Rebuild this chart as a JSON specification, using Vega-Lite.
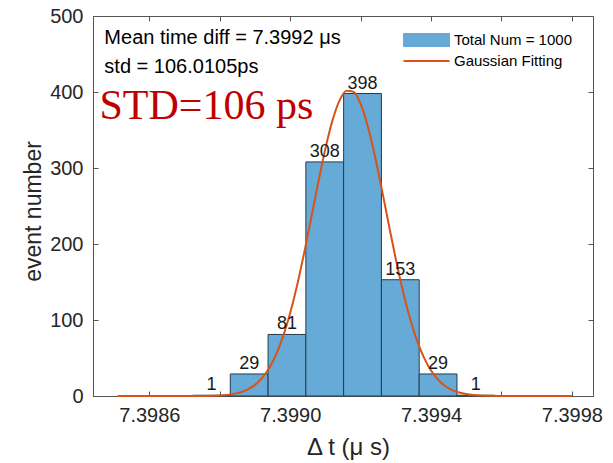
{
  "$schema": "https://vega.github.io/schema/vega-lite/v6.json",
  "autosize": {"type": "none"},
  "padding": {"left": 93, "top": 16, "right": 20, "bottom": 67},
  "width": 500,
  "height": 380,
  "background": "white",
  "config": {
    "font": "Liberation Sans",
    "view": {"stroke": "#555555", "strokeWidth": 1},
    "axis": {
      "grid": false,
      "domainColor": "#555555",
      "tickColor": "#555555",
      "labelColor": "#262626",
      "titleColor": "#262626",
      "labelFont": "Liberation Sans",
      "titleFont": "Liberation Sans",
      "labelFontSize": 20,
      "titleFontSize": 22,
      "titleFontWeight": "normal"
    },
    "legend": {
      "orient": "none",
      "legendX": 326,
      "legendY": 16.5,
      "title": null,
      "padding": 0,
      "symbolSize": 400,
      "rowPadding": 5,
      "labelOffset": 20,
      "labelFontSize": 15,
      "labelColor": "#000000",
      "labelFont": "Liberation Sans",
      "symbolOpacity": 1
    }
  },
  "datasets": {
    "bins": [
      {"start": 7.3987226, "end": 7.3988299, "count": 1},
      {"start": 7.3988299, "end": 7.3989372, "count": 29},
      {"start": 7.3989372, "end": 7.3990445, "count": 81},
      {"start": 7.3990445, "end": 7.3991518, "count": 308},
      {"start": 7.3991518, "end": 7.3992591, "count": 398},
      {"start": 7.3992591, "end": 7.3993664, "count": 153},
      {"start": 7.3993664, "end": 7.3994737, "count": 29},
      {"start": 7.3994737, "end": 7.399581, "count": 1}
    ],
    "fit": [
      {"t": 7.39851, "n": 0},
      {"t": 7.39870, "n": 0.02},
      {"t": 7.39875, "n": 0.13},
      {"t": 7.39880, "n": 0.77},
      {"t": 7.39884, "n": 2.8},
      {"t": 7.39886, "n": 5.0},
      {"t": 7.39888, "n": 8.7},
      {"t": 7.39890, "n": 14.6},
      {"t": 7.39892, "n": 23.5},
      {"t": 7.39894, "n": 36.4},
      {"t": 7.39896, "n": 54.5},
      {"t": 7.39898, "n": 78.7},
      {"t": 7.39900, "n": 109.3},
      {"t": 7.39902, "n": 146.4},
      {"t": 7.39904, "n": 189.0},
      {"t": 7.39906, "n": 235.0},
      {"t": 7.39908, "n": 281.7},
      {"t": 7.39910, "n": 325.5},
      {"t": 7.39912, "n": 362.3},
      {"t": 7.39914, "n": 388.7},
      {"t": 7.39916, "n": 401.8},
      {"t": 7.39918, "n": 400.3},
      {"t": 7.39920, "n": 384.4},
      {"t": 7.39922, "n": 355.6},
      {"t": 7.39924, "n": 317.2},
      {"t": 7.39926, "n": 272.5},
      {"t": 7.39928, "n": 225.6},
      {"t": 7.39930, "n": 180.1},
      {"t": 7.39932, "n": 138.5},
      {"t": 7.39934, "n": 102.6},
      {"t": 7.39936, "n": 73.3},
      {"t": 7.39938, "n": 50.5},
      {"t": 7.39940, "n": 33.5},
      {"t": 7.39942, "n": 21.4},
      {"t": 7.39944, "n": 13.2},
      {"t": 7.39946, "n": 7.8},
      {"t": 7.39948, "n": 4.5},
      {"t": 7.39950, "n": 2.5},
      {"t": 7.39952, "n": 1.3},
      {"t": 7.39956, "n": 0.33},
      {"t": 7.39962, "n": 0.03},
      {"t": 7.39980, "n": 0}
    ],
    "notes": [
      {"t": 7.3984723, "n": 463, "label": "Mean time diff = 7.3992 μs"},
      {"t": 7.3984723, "n": 425, "label": "std = 106.0105ps"}
    ],
    "big": [
      {"t": 7.3984585, "n": 364, "label": "STD=106 ps"}
    ]
  },
  "resolve": {"axis": {"x": "independent", "y": "independent"}},
  "layer": [
    {
      "data": {"name": "bins"},
      "mark": {"type": "bar", "stroke": "#2a3a4a", "strokeWidth": 1, "opacity": 1},
      "encoding": {
        "x": {
          "field": "start", "type": "quantitative",
          "scale": {"domain": [7.39844, 7.39986], "nice": false, "zero": false},
          "axis": {
            "orient": "bottom",
            "values": [7.3986, 7.3988, 7.399, 7.3992, 7.3994, 7.3996, 7.3998],
            "format": ".4f",
            "labelExpr": "(round(datum.value*10000) % 4 == 2) ? datum.label : ''",
            "tickSize": -5,
            "labelPadding": 14,
            "labelFlush": false,
            "labelOverlap": false,
            "title": "Δ t (μ s)",
            "titleFontSize": 24,
            "titleX": 255,
            "titleY": 51,
            "titleBaseline": "middle"
          }
        },
        "x2": {"field": "end"},
        "y": {
          "field": "count", "type": "quantitative",
          "scale": {"domain": [0, 500], "nice": false},
          "axis": {
            "orient": "left",
            "values": [0, 100, 200, 300, 400, 500],
            "tickSize": -5,
            "labelPadding": 15,
            "title": "event number",
            "titleX": -60,
            "titleY": 195,
            "titleAngle": -90,
            "titleAlign": "center",
            "titleBaseline": "middle",
            "titleFontSize": 23
          }
        },
        "y2": {"datum": 0},
        "color": {
          "datum": "Total Num = 1000",
          "type": "nominal",
          "scale": {"domain": ["Total Num = 1000", "Gaussian Fitting"], "range": ["#66AAD7", "#D95319"]},
          "legend": {
            "encode": {
              "symbols": {
                "update": {
                  "shape": {"signal": "datum.value === 'Gaussian Fitting' ? 'M-2.3,0H2.3' : 'M-2.3,-0.65H2.3V0.65H-2.3Z'"},
                  "fill": {"signal": "datum.value === 'Gaussian Fitting' ? 'transparent' : '#66AAD7'"},
                  "stroke": {"signal": "datum.value === 'Gaussian Fitting' ? '#D95319' : '#2a3a4a'"},
                  "strokeWidth": {"signal": "datum.value === 'Gaussian Fitting' ? 2 : 1"}
                }
              }
            }
          }
        }
      }
    },
    {
      "data": {"name": "fit"},
      "mark": {"type": "line", "strokeWidth": 2, "interpolate": "monotone"},
      "encoding": {
        "x": {"field": "t", "type": "quantitative", "axis": {"orient": "top", "values": [7.3986, 7.3988, 7.399, 7.3992, 7.3994, 7.3996, 7.3998], "labels": false, "domain": false, "tickSize": -5, "title": null}},
        "y": {"field": "n", "type": "quantitative", "axis": {"orient": "right", "values": [0, 100, 200, 300, 400, 500], "labels": false, "domain": false, "tickSize": -5, "title": null}},
        "color": {
          "datum": "Gaussian Fitting", "type": "nominal",
          "legend": {
            "encode": {
              "symbols": {
                "update": {
                  "shape": {"signal": "datum.value === 'Gaussian Fitting' ? 'M-2.3,0H2.3' : 'M-2.3,-0.65H2.3V0.65H-2.3Z'"},
                  "fill": {"signal": "datum.value === 'Gaussian Fitting' ? 'transparent' : '#66AAD7'"},
                  "stroke": {"signal": "datum.value === 'Gaussian Fitting' ? '#D95319' : '#2a3a4a'"},
                  "strokeWidth": {"signal": "datum.value === 'Gaussian Fitting' ? 2 : 1"}
                }
              }
            }
          }
        }
      }
    },
    {
      "data": {"name": "bins"},
      "transform": [{"calculate": "(datum.start + datum.end) / 2", "as": "mid"}],
      "mark": {"type": "text", "baseline": "alphabetic", "align": "center", "dy": -5, "fontSize": 18, "font": "Liberation Sans", "color": "#1a1a1a"},
      "encoding": {
        "x": {"field": "mid", "type": "quantitative", "axis": null},
        "y": {"field": "count", "type": "quantitative", "axis": null},
        "text": {"field": "count", "type": "quantitative"}
      }
    },
    {
      "data": {"name": "notes"},
      "mark": {"type": "text", "baseline": "alphabetic", "align": "left", "fontSize": 20, "font": "Liberation Sans", "color": "#000000"},
      "encoding": {
        "x": {"field": "t", "type": "quantitative", "axis": null},
        "y": {"field": "n", "type": "quantitative", "axis": null},
        "text": {"field": "label", "type": "nominal"}
      }
    },
    {
      "data": {"name": "big"},
      "mark": {"type": "text", "baseline": "alphabetic", "align": "left", "fontSize": 42, "font": "Liberation Serif", "color": "#C00000"},
      "encoding": {
        "x": {"field": "t", "type": "quantitative", "axis": null},
        "y": {"field": "n", "type": "quantitative", "axis": null},
        "text": {"field": "label", "type": "nominal"}
      }
    }
  ]
}
